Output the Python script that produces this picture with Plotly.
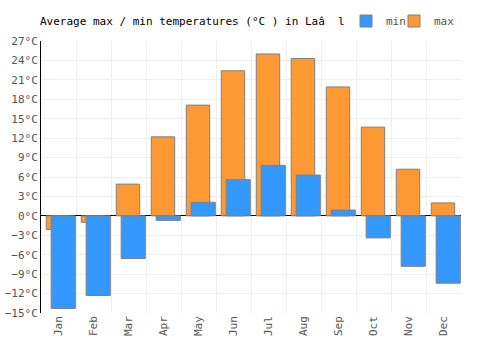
import plotly.graph_objects as go

months = ["Jan", "Feb", "Mar", "Apr", "May", "Jun", "Jul", "Aug", "Sep", "Oct", "Nov", "Dec"]
max_t = [-2.1, -1.0, 4.9, 12.2, 17.1, 22.4, 25.0, 24.3, 19.9, 13.7, 7.2, 2.0]
min_t = [-14.3, -12.3, -6.6, -0.7, 2.1, 5.6, 7.8, 6.3, 0.9, -3.4, -7.8, -10.4]

font_family = "DejaVu Sans Mono"

fig = go.Figure()
fig.add_trace(go.Bar(
    x=months, y=max_t, name="max", legend="legend2",
    marker=dict(color="#FF9933", line=dict(color="#808080", width=1)),
    offset=-0.35, width=0.67,
))
fig.add_trace(go.Bar(
    x=months, y=min_t, name="min", legend="legend",
    marker=dict(color="#3399FF", line=dict(color="#808080", width=1)),
    offset=-0.21, width=0.69,
))

leg_common = dict(orientation="h", yref="container", xref="container",
                  y=1-21/350, xanchor="left", yanchor="middle",
                  font=dict(family=font_family, size=11, color="#555555"),
                  bgcolor="rgba(0,0,0,0)")

fig.update_layout(
    width=500, height=350,
    margin=dict(l=41, r=39, t=41, b=37, autoexpand=False),
    barmode="overlay",
    plot_bgcolor="white", paper_bgcolor="white",
    font=dict(family=font_family, size=11, color="#555555"),
    title=dict(text="Average max / min temperatures (°C ) in Laâ  l",
               x=40/500, xanchor="left", y=1-21/350, yanchor="middle",
               font=dict(family=font_family, size=11, color="#000000")),
    legend=dict(x=346/500, **leg_common),
    legend2=dict(x=394/500, **leg_common),
    showlegend=True,
)

fig.update_xaxes(
    type="category", tickson="boundaries", showgrid=True, gridcolor="#eeeeee", gridwidth=1,
    tickangle=-90, ticks="", showline=False, zeroline=False,
    tickfont=dict(family=font_family, size=11, color="#555555"),
)
fig.update_yaxes(
    range=[-15, 27], dtick=3, tick0=0, ticksuffix="°C",
    showgrid=True, gridcolor="#eeeeee", gridwidth=1,
    zeroline=True, zerolinecolor="#000000", zerolinewidth=1,
    showline=True, linecolor="#000000", linewidth=1,
    ticks="", tickfont=dict(family=font_family, size=11, color="#555555"),
)

fig.write_html("out.html")
